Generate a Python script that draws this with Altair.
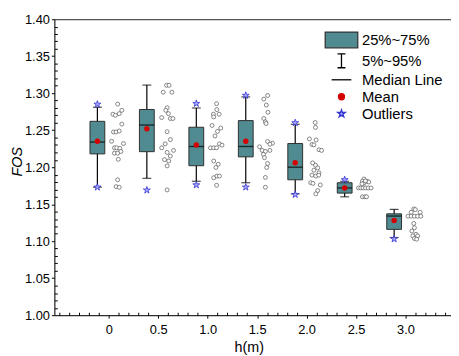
import altair as alt
import pandas as pd

# ---------------- data ----------------
h_labels = ["0", "0.5", "1.0", "1.5", "2.0", "2.5", "3.0"]
whisker_low = [1.173, 1.185, 1.181, 1.179, 1.164, 1.160, 1.105]
q1 = [1.218, 1.221, 1.202, 1.214, 1.183, 1.165, 1.116]
median = [1.234, 1.257, 1.228, 1.228, 1.200, 1.172, 1.134]
mean = [1.235, 1.252, 1.230, 1.235, 1.206, 1.172, 1.128]
q3 = [1.262, 1.278, 1.254, 1.263, 1.232, 1.179, 1.137]
whisker_high = [1.281, 1.311, 1.280, 1.295, 1.258, 1.181, 1.143]

outlier_cat = [0, 0, 1, 2, 2, 3, 3, 4, 4, 5, 6]
outlier_val = [1.285, 1.173, 1.169, 1.286, 1.176, 1.297, 1.173, 1.260, 1.163, 1.183, 1.103]

pts_0 = [1.2853, 1.2716, 1.2702, 1.2724, 1.2769, 1.2582, 1.2476, 1.2476, 1.2489, 1.2351,
         1.2320, 1.2262, 1.2262, 1.2255, 1.2190, 1.2190, 1.2213, 1.2107, 1.1830, 1.1738, 1.1729]
jit_0 = [0, -0.097, -0.045, 0.032, 0.084, 0.084, -0.084, -0.032, 0.032, -0.123,
         0.117, -0.065, -0.019, 0.045, -0.065, 0, 0.065, 0.013, 0, -0.032, 0.032]
pts_05 = [1.3107, 1.3107, 1.3013, 1.3013, 1.2804, 1.2769, 1.2724, 1.2671, 1.2658, 1.2658,
          1.2480, 1.2373, 1.2316, 1.2262, 1.2227, 1.2200, 1.2151, 1.2102, 1.2084, 1.2018, 1.1693]
jit_05 = [-0.013, 0.039, -0.078, 0.097, 0, -0.026, 0.026, -0.11, 0.065, 0.117,
          0, 0.065, -0.039, -0.11, 0.13, 0, 0.065, -0.052, 0.032, 0, 0]
pts_10 = [1.2858, 1.2716, 1.2778, 1.2716, 1.2680, 1.2564, 1.2529, 1.2484, 1.2422, 1.2262,
          1.2262, 1.2262, 1.2316, 1.2298, 1.2084, 1.2040, 1.1996, 1.1858, 1.1880, 1.1880, 1.1756]
jit_10 = [0, -0.065, 0.006, 0.052, -0.058, -0.091, 0.084, 0.019, -0.032, -0.123,
          -0.058, 0, 0.058, 0.110, -0.058, 0.032, -0.013, -0.058, 0.006, 0.058, 0]
pts_15 = [1.2969, 1.2920, 1.2840, 1.2742, 1.2658, 1.2613, 1.2591, 1.2347, 1.2324, 1.2311,
          1.2276, 1.2227, 1.2213, 1.2173, 1.2227, 1.2129, 1.2049, 1.1996, 1.1862, 1.1729]
jit_15 = [0.032, -0.045, 0.006, 0.039, -0.045, -0.013, 0, 0.032, 0.13, 0.078,
          -0.13, -0.078, -0.013, -0.052, 0.078, -0.032, 0.032, 0.013, -0.013, -0.013]
pts_20 = [1.2604, 1.2538, 1.2382, 1.2369, 1.2307, 1.2302, 1.2236, 1.2227, 1.2058, 1.2027,
          1.1991, 1.1960, 1.1924, 1.1893, 1.1880, 1.1893, 1.1791, 1.1782, 1.1760, 1.1684, 1.1640]
jit_20 = [-0.006, 0, -0.123, 0.013, -0.071, -0.032, 0.071, 0.123, -0.058, 0,
          0.045, -0.032, 0.071, -0.071, 0.006, 0.065, -0.097, -0.052, 0.097, 0.045, 0.006]
pts_25 = [1.1840, 1.1809, 1.1809, 1.1800, 1.1787, 1.1720, 1.1720, 1.1720, 1.1720, 1.1720,
          1.1720, 1.1600, 1.1600, 1.1600, 1.1815, 1.1775]
jit_25 = [-0.019, -0.052, 0.045, 0.078, -0.019, -0.13, -0.084, -0.039, 0.013, 0.065,
          0.123, -0.052, 0, 0.032, 0.01, -0.06]
pts_30 = [1.1436, 1.1427, 1.1391, 1.1391, 1.1338, 1.1338, 1.1338, 1.1338, 1.1338, 1.1240,
          1.1182, 1.1138, 1.1093, 1.1071, 1.1071, 1.1036, 1.1027]
jit_30 = [-0.013, 0.019, -0.065, 0.117, -0.13, -0.065, 0, 0.065, 0.13, -0.013,
          0, -0.052, 0.032, -0.032, 0.065, 0, 0.045]

legend_items = ["25%~75%", "5%~95%", "Median Line", "Mean", "Outliers"]

# ---------------- styling ----------------
FONT = "Liberation Sans"
TEAL = "#4f8b90"
BOX_SHIFT = -0.23
PTS_SHIFT = 0.18

STAR = ("M0,-1L0.2245,-0.309L0.951,-0.309L0.3633,0.118L0.588,0.809L0,0.382"
        "L-0.588,0.809L-0.3633,0.118L-0.951,-0.309L-0.2245,-0.309Z")
STAR_SMALL = ("M0,-0.5L0.112,-0.155L0.476,-0.155L0.182,0.059L0.294,0.405L0,0.191"
              "L-0.294,0.405L-0.182,0.059L-0.476,-0.155L-0.112,-0.155Z")
LEG_SHAPES = [
    "M-2.06,-1L2.06,-1L2.06,1L-2.06,1Z",
    "M-0.5,-0.875L0.5,-0.875M0,-0.875L0,0.875M-0.5,0.875L0.5,0.875",
    "M-1.25,0L1.25,0",
    "M0.38,0A0.38,0.38 0 1,1 -0.38,0A0.38,0.38 0 1,1 0.38,0Z",
    STAR_SMALL,
]
LEG_FILL = [TEAL, "transparent", "transparent", "#d40000", "#a9a9ff"]
LEG_STROKE = ["#333333", "#000000", "#000000", "#d40000", "#3434d0"]

# ---------------- tables ----------------
idx = list(range(len(h_labels)))
box_df = pd.DataFrame({
    "i": idx, "h": h_labels, "lo": whisker_low, "q1": q1, "med": median,
    "mean": mean, "q3": q3, "hi": whisker_high,
})
box_df["bx"] = box_df["i"] + BOX_SHIFT

out_df = pd.DataFrame({"i": outlier_cat, "v": outlier_val})
out_df["bx"] = out_df["i"] + BOX_SHIFT

rows = []
for k, (pts, jit) in enumerate([(pts_0, jit_0), (pts_05, jit_05), (pts_10, jit_10),
                                (pts_15, jit_15), (pts_20, jit_20), (pts_25, jit_25),
                                (pts_30, jit_30)]):
    for v, j in zip(pts, jit):
        rows.append({"i": k, "v": v, "px": k + PTS_SHIFT + j})
pts_df = pd.DataFrame(rows)

leg_df = pd.DataFrame({"item": legend_items, "x": [-5] * 5, "y": [1.2] * 5})

# ---------------- scales / axes ----------------
xs = alt.Scale(domain=[-1, 6.82], nice=False, zero=False)
ys = alt.Scale(domain=[1.0, 1.4], nice=False, zero=False)

label_expr = "[" + ",".join("'%s'" % s for s in h_labels) + "][round(datum.value)]"

x_main = alt.Axis(orient="bottom", values=idx, labelExpr=label_expr, tickSize=3,
                  tickColor="#000", domainColor="#000", domainWidth=1, tickWidth=1,
                  labelFontSize=13, labelFont=FONT, labelColor="#000", labelPadding=6,
                  grid=False, title="h(m)", titleFont=FONT, titleFontSize=14.5,
                  titleFontWeight="normal", titleColor="#000", titlePadding=4,
                  titleX=197)
y_main = alt.Axis(orient="left", values=[round(1.0 + 0.05 * k, 2) for k in range(9)],
                  format=".2f", tickSize=3, tickColor="#000", domainColor="#000",
                  domainWidth=1, tickWidth=1, labelFontSize=13, labelFont=FONT,
                  labelColor="#000", labelPadding=2, grid=False, title="FOS",
                  titleFont=FONT, titleFontSize=14.5, titleFontStyle="italic",
                  titleFontWeight="normal", titleColor="#000", titlePadding=0,
                  titleY=144)

x_minor_vals = [round(-1 + 0.2 * k, 1) for k in range(40)]
x_minor_vals = [v for v in x_minor_vals if not (v == int(v) and v >= 0)]
y_minor_vals = [round(1.0 + 0.01 * k, 2) for k in range(41) if k % 5 != 0]

x_minor = alt.Axis(orient="bottom", values=x_minor_vals, offset=-3, tickSize=3,
                   tickColor="#000", tickWidth=1, labels=False, domain=False,
                   grid=False, title=None)
y_minor = alt.Axis(orient="left", values=y_minor_vals, offset=-3, tickSize=3,
                   tickColor="#000", tickWidth=1, labels=False, domain=False,
                   grid=False, title=None)
x_top = alt.Axis(orient="top", ticks=False, labels=False, domain=True,
                 domainColor="#333", domainWidth=1, grid=False, title=None)

# ---------------- layers ----------------
whisk = alt.Chart(box_df).mark_rule(color="#000", strokeWidth=1.2).encode(
    x=alt.X("bx:Q", scale=xs, axis=x_minor),
    y=alt.Y("lo:Q", scale=ys, axis=y_minor),
    y2="hi:Q",
)

box = alt.Chart(box_df).mark_bar(size=15, orient="vertical", fill=TEAL,
                                 stroke="#2f2f2f", strokeWidth=1).encode(
    x=alt.X("bx:Q", scale=xs, axis=x_main),
    y=alt.Y("q1:Q", scale=ys, axis=y_main),
    y2="q3:Q",
)

cap_hi = alt.Chart(box_df).mark_tick(orient="horizontal", size=9, thickness=1.2,
                                     color="#000").encode(
    x=alt.X("bx:Q", scale=xs, axis=x_top),
    y=alt.Y("hi:Q", scale=ys, axis=None),
)
cap_lo = alt.Chart(box_df).mark_tick(orient="horizontal", size=9, thickness=1.2,
                                     color="#000").encode(
    x=alt.X("bx:Q", scale=xs, axis=None),
    y=alt.Y("lo:Q", scale=ys, axis=None),
)
med = alt.Chart(box_df).mark_tick(orient="horizontal", size=15, thickness=1.4,
                                  color="#000").encode(
    x=alt.X("bx:Q", scale=xs, axis=None),
    y=alt.Y("med:Q", scale=ys, axis=None),
)
mean_pt = alt.Chart(box_df).mark_point(filled=True, shape="circle", size=30,
                                       color="#d40000", opacity=1).encode(
    x=alt.X("bx:Q", scale=xs, axis=None),
    y=alt.Y("mean:Q", scale=ys, axis=None),
)
outl = alt.Chart(out_df).mark_point(shape=STAR, size=55, fill="#a9a9ff",
                                    stroke="#3434d0", strokeWidth=0.8,
                                    opacity=1, fillOpacity=1).encode(
    x=alt.X("bx:Q", scale=xs, axis=None),
    y=alt.Y("v:Q", scale=ys, axis=None),
)
scatter = alt.Chart(pts_df).mark_point(shape="circle", size=16, fill="white",
                                       fillOpacity=1, stroke="#555555",
                                       strokeWidth=0.7, opacity=1).encode(
    x=alt.X("px:Q", scale=xs, axis=None),
    y=alt.Y("v:Q", scale=ys, axis=None),
)

leg_common = dict(orient="none", legendX=282, legendY=12, title=None)
leg = alt.Chart(leg_df).mark_point(size=256, strokeWidth=1.3, opacity=1,
                                   fillOpacity=1, clip=True).encode(
    x=alt.X("x:Q", scale=xs, axis=None),
    y=alt.Y("y:Q", scale=ys, axis=None),
    shape=alt.Shape("item:N", scale=alt.Scale(domain=legend_items, range=LEG_SHAPES),
                    sort=legend_items,
                    legend=alt.Legend(labelFont=FONT, labelFontSize=15,
                                      labelColor="#000", labelOffset=11.7,
                                      padding=0, rowPadding=0.2, symbolSize=256,
                                      symbolStrokeWidth=1.3, **leg_common)),
    fill=alt.Fill("item:N", scale=alt.Scale(domain=legend_items, range=LEG_FILL),
                  sort=legend_items, legend=alt.Legend(**leg_common)),
    stroke=alt.Stroke("item:N", scale=alt.Scale(domain=legend_items, range=LEG_STROKE),
                      sort=legend_items, legend=alt.Legend(**leg_common)),
)

chart = alt.layer(
    whisk, box, cap_hi, cap_lo, med, scatter, outl, mean_pt, leg
).resolve_axis(
    x="independent", y="independent"
).properties(
    width=402, height=300,
    autosize=alt.AutoSizeParams(type="none"),
    padding={"left": 47, "top": 9, "right": 0, "bottom": 40},
).configure_view(stroke=None).configure(background="white")

chart.save("out.html", embed_options={"renderer": "svg", "actions": False})
